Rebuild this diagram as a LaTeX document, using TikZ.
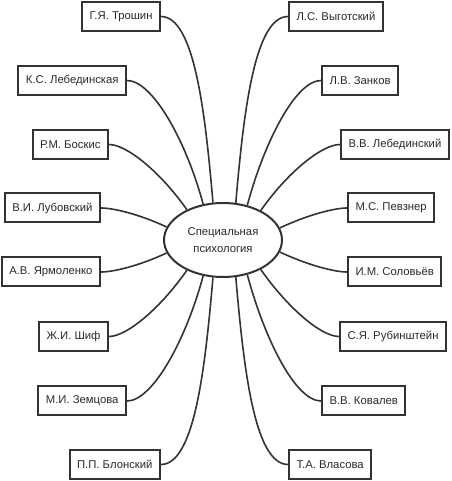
\documentclass[tikz,border=0pt]{standalone}
\usepackage{fontspec}
\setmainfont{Liberation Sans}
\usepackage{xcolor}
\usetikzlibrary{shapes.geometric}
\definecolor{ink}{HTML}{333333}

\begin{document}
\begin{tikzpicture}[
  x=1pt, y=1pt,
  every node/.style={font=\fontsize{11.3}{17}\selectfont, text=ink!80!black},
  person/.style={draw=ink, line width=2pt, inner xsep=7.5pt,
                minimum height=29pt, inner ysep=0pt},
  topic/.style={draw=ink, line width=2pt, ellipse, inner sep=0pt,
                minimum width=118pt, minimum height=74pt, align=center},
  link/.style ={draw=ink, line width=1.6pt,
                out looseness=0.45, in looseness=1.15}
]
\useasboundingbox (0,0) rectangle (451,481);

\node[topic] (spec) at (223,241) {Специальная\\психология};

% left column
\node[person, anchor=east] (trosh)  at (161,464.5) {Г.Я. Трошин};
\node[person, anchor=east] (klebed) at (127,400.5) {К.С. Лебединская};
\node[person, anchor=east] (boskis) at (109,336.5) {Р.М. Боскис};
\node[person, anchor=east] (lubov)  at (101,273)   {В.И. Лубовский};
\node[person, anchor=east] (yarmol) at (101,209)   {А.В. Ярмоленко};
\node[person, anchor=east] (shif)   at (109,144.5) {Ж.И. Шиф};
\node[person, anchor=east] (zemts)  at (127,80)    {М.И. Земцова};
\node[person, anchor=east] (blon)   at (161,16.5)  {П.П. Блонский};

% right column
\node[person, anchor=west] (vygot)  at (288,464.5) {Л.С. Выготский};
\node[person, anchor=west] (zankov) at (321,400.5) {Л.В. Занков};
\node[person, anchor=west] (vlebed) at (340,336.5) {В.В. Лебединский};
\node[person, anchor=west] (pevz)   at (347,273)   {М.С. Певзнер};
\node[person, anchor=west] (solov)  at (347,209)   {И.М. Соловьёв};
\node[person, anchor=west] (rubin)  at (339,144.5) {С.Я. Рубинштейн};
\node[person, anchor=west] (koval)  at (321,80)    {В.В. Ковалев};
\node[person, anchor=west] (vlas)   at (288,16.5)  {Т.А. Власова};

\draw[link] (trosh.east)  to[out=0, in=95]  (spec.105);
\draw[link] (klebed.east) to[out=0, in=105] (spec.119);
\draw[link] (boskis.east) to[out=0, in=125] (spec.140);
\draw[link] (lubov.east)  to[out=0, in=155] (spec.167);
\draw[link] (yarmol.east) to[out=0, in=205] (spec.193);
\draw[link] (shif.east)   to[out=0, in=235] (spec.220);
\draw[link] (zemts.east)  to[out=0, in=255] (spec.241);
\draw[link] (blon.east)   to[out=0, in=265] (spec.255);

\draw[link] (vygot.west)  to[out=180, in=85]  (spec.71);
\draw[link] (zankov.west) to[out=180, in=75]  (spec.55);
\draw[link] (vlebed.west) to[out=180, in=55]  (spec.38);
\draw[link] (pevz.west)   to[out=180, in=25]  (spec.12);
\draw[link] (solov.west)  to[out=180, in=335] (spec.348);
\draw[link] (rubin.west)  to[out=180, in=305] (spec.322);
\draw[link] (koval.west)  to[out=180, in=285] (spec.305);
\draw[link] (vlas.west)   to[out=180, in=275] (spec.289);

\end{tikzpicture}
\end{document}
